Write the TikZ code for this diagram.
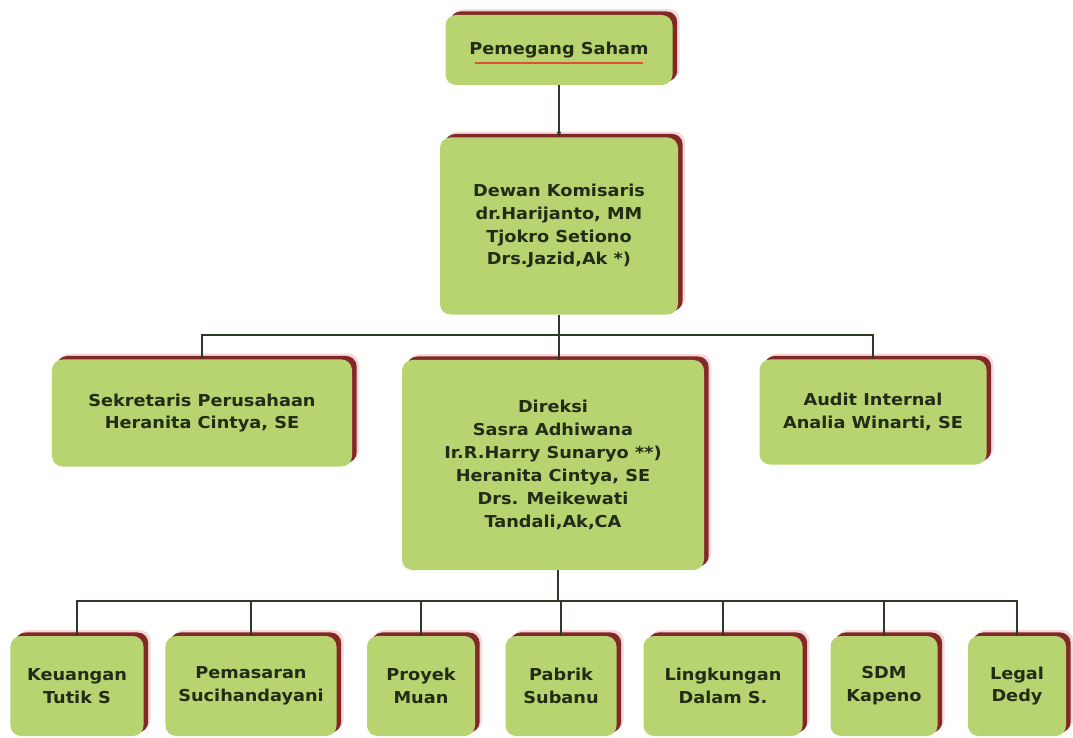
\documentclass[tikz,border=0pt]{standalone}
\usepackage{fontspec}
\setmainfont[FakeStretch=1.08]{DejaVu Sans}
\usetikzlibrary{shadows,arrows.meta}
\definecolor{boxgreen}{RGB}{184,212,112}
\definecolor{shadered}{RGB}{130,40,40}
\definecolor{glowpink}{RGB}{238,190,190}
\definecolor{linegray}{RGB}{46,58,40}
\definecolor{inkdark}{RGB}{34,44,22}
\definecolor{spellred}{RGB}{225,80,50}

\begin{document}
\begin{tikzpicture}[x=0.03cm,y=-0.03cm,
	box/.style={fill=boxgreen,rounded corners=9pt,align=center,text=inkdark,
		font=\fontsize{14}{19.5}\selectfont\bfseries,inner sep=2pt,
		general shadow={fill=glowpink,shadow xshift=6pt,shadow yshift=5pt,opacity=.6},
		general shadow={fill=shadered,shadow xshift=4pt,shadow yshift=3pt}},
	link/.style={draw=linegray,line width=1.4pt}]
	\useasboundingbox (0,0) rectangle (1073,738);
	% top of the chart
	\node[box,minimum width=6.81cm,minimum height=2.1cm] (share) at (559,50) {Pemegang Saham};
	\draw[spellred,line width=0.9pt] ([shift={(-84,13)}]share.center) -- ([shift={(84,13)}]share.center);
	\node[box,minimum width=7.14cm,minimum height=5.31cm] (board) at (559,226) {Dewan Komisaris\\dr.Harijanto, MM\\Tjokro Setiono\\Drs.Jazid,Ak *)};
	% middle row
	\node[box,minimum width=9cm,minimum height=3.21cm] (sec) at (202,413) {Sekretaris Perusahaan\\Heranita Cintya, SE};
	\node[box,minimum width=9.06cm,minimum height=6.3cm] (dir) at (553,465) {Direksi\\Sasra Adhiwana\\Ir.R.Harry Sunaryo **)\\Heranita Cintya, SE\\Drs. Meikewati\\Tandali,Ak,CA};
	\node[box,minimum width=6.81cm,minimum height=3.15cm] (audit) at (873,412) {Audit Internal\\Analia Winarti, SE};
	% bottom row
	\foreach \n/\x/\w/\t in {keu/77/3.99/{Keuangan\\Tutik S},pem/251/5.13/{Pemasaran\\Sucihandayani},
		proy/421/3.24/{Proyek\\Muan},pab/561/3.33/{Pabrik\\Subanu},ling/723/4.77/{Lingkungan\\Dalam S.},
		sdm/884/3.21/{SDM\\Kapeno},legal/1017/2.94/{Legal\\Dedy}}
		\node[box,minimum width=\w cm,minimum height=3cm] (\n) at (\x,686) {\t};
	% connectors
	\coordinate (busA) at (559,335);
	\coordinate (busB) at (558,601);
	\draw[link,-{Stealth[length=5pt,width=4pt]}] (share.south) -- (board.north);
	\draw[link] (board.south) -- (busA);
	\draw[link] (sec.north) |- (busA) -| (audit.north);
	\draw[link] (busA) -- (busA |- dir.north);
	\draw[link] (busB |- dir.south) -- (busB);
	\foreach \n in {keu,pem,proy,pab,ling,sdm,legal} \draw[link] (busB) -| (\n.north);
\end{tikzpicture}
\end{document}
